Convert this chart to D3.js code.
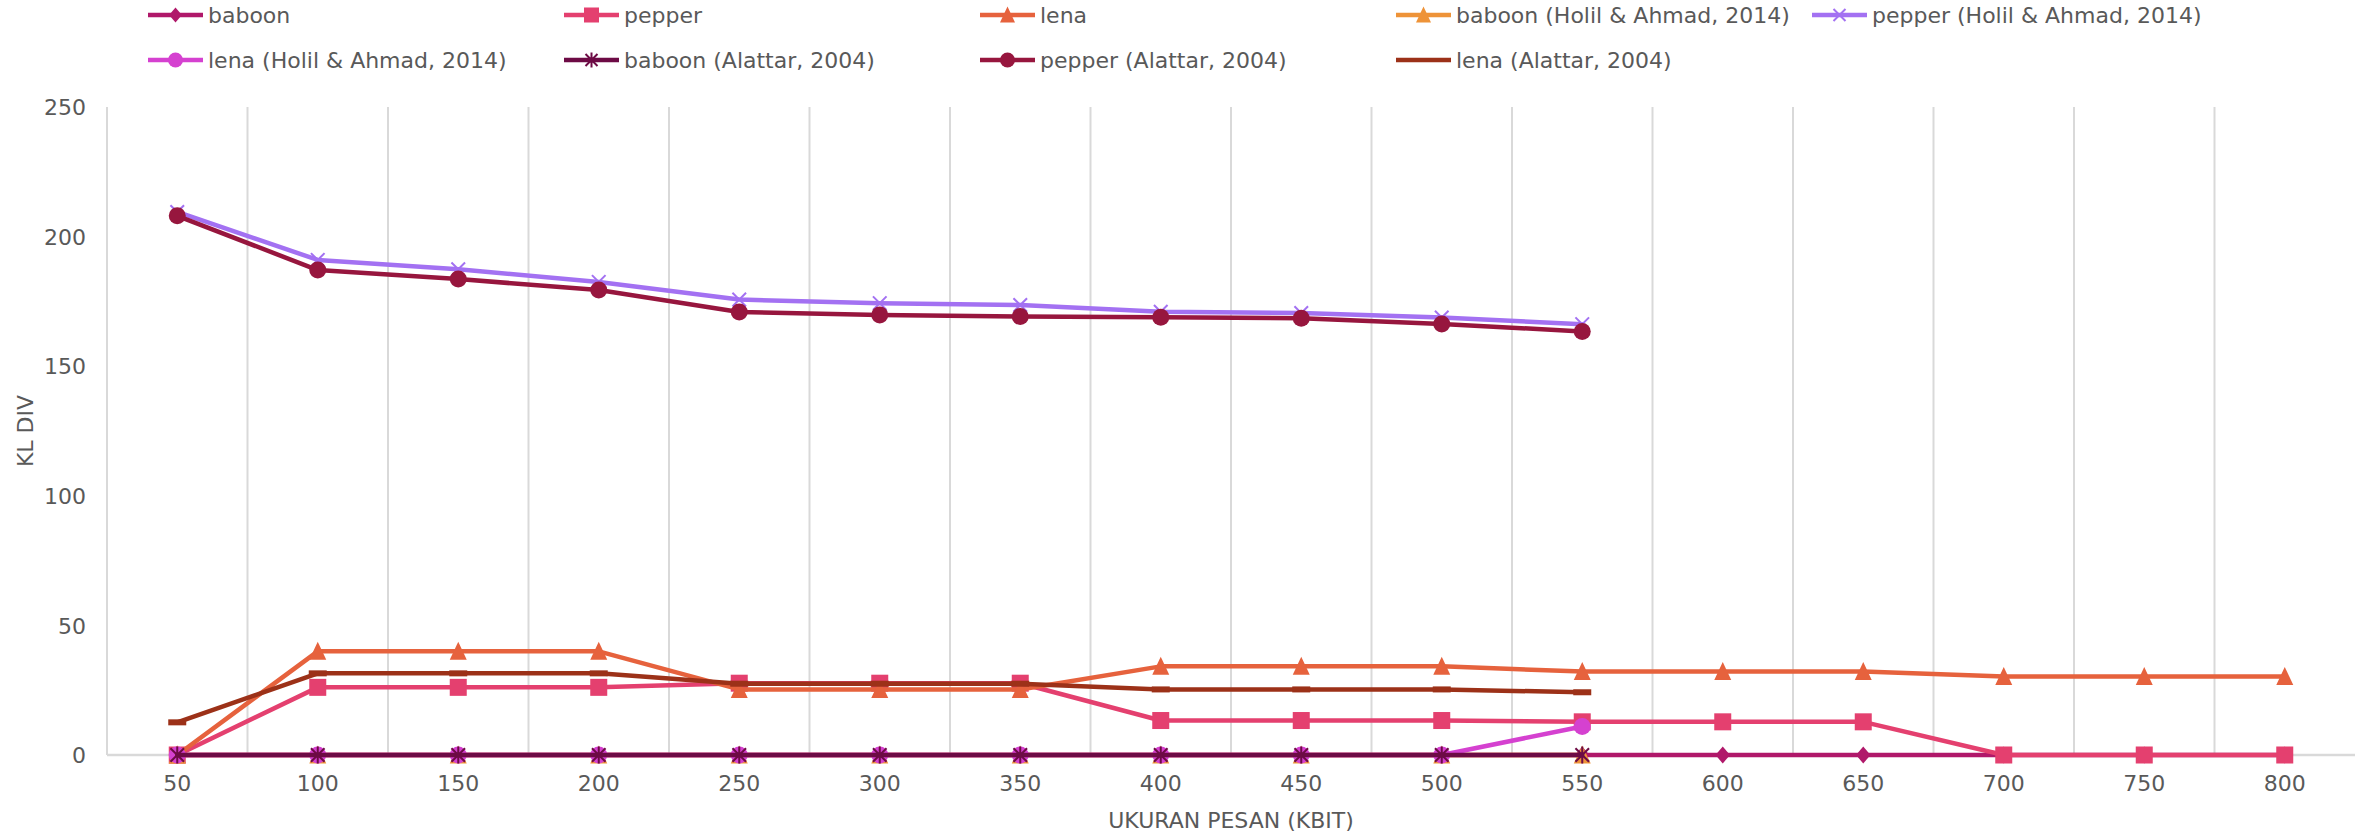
<!DOCTYPE html>
<html>
<head>
<meta charset="utf-8">
<script src="https://cdn.jsdelivr.net/npm/d3@7"></script>
<style>
  html, body { margin: 0; padding: 0; background: #fff; }
  svg text { font-family: "DejaVu Sans", sans-serif; fill: #595959; }
</style>
</head>
<body>
<svg id="chart" width="2369" height="833"></svg>
<script>
// Message sizes (kbit) on the category axis
const categories = ["50","100","150","200","250","300","350","400","450","500","550","600","650","700","750","800"];
const yTicks = [0, 50, 100, 150, 200, 250];

// KL divergence per message size
const baboon        = [0, 0, 0, 0, 0, 0, 0, 0, 0, 0, 0, 0, 0, 0, 0, 0];
const pepper        = [0, 26.1, 26.1, 26.1, 27.7, 27.7, 27.7, 13.3, 13.3, 13.3, 12.8, 12.8, 12.8, 0, 0, 0];
const lena          = [0, 40, 40, 40, 25.3, 25.3, 25.3, 34.2, 34.2, 34.2, 32.2, 32.2, 32.2, 30.3, 30.3, 30.3];
const baboonHolil   = [0, 0, 0, 0, 0, 0, 0, 0, 0, 0, 0];
const pepperHolil   = [209.5, 191, 187.4, 182.5, 175.7, 174.3, 173.6, 171, 170.5, 168.8, 166.2];
const lenaHolil     = [0, 0, 0, 0, 0, 0, 0, 0, 0, 0, 11];
const baboonAlattar = [0, 0, 0, 0, 0, 0, 0, 0, 0, 0, 0];
const pepperAlattar = [208, 187.1, 183.6, 179.4, 170.9, 169.8, 169.2, 168.9, 168.5, 166.3, 163.4];
const lenaAlattar   = [12.6, 31.5, 31.5, 31.5, 27.5, 27.5, 27.5, 25.3, 25.3, 25.3, 24.2];

const seriesNames = [
  "baboon", "pepper", "lena",
  "baboon (Holil & Ahmad, 2014)", "pepper (Holil & Ahmad, 2014)", "lena (Holil & Ahmad, 2014)",
  "baboon (Alattar, 2004)", "pepper  (Alattar, 2004)", "lena (Alattar, 2004)"
];
const seriesValues = [baboon, pepper, lena, baboonHolil, pepperHolil, lenaHolil, baboonAlattar, pepperAlattar, lenaAlattar];
const seriesColors = ["#B0186A", "#E4406F", "#E6623D", "#EE9338", "#A371F2", "#D541D0", "#6D0B45", "#97163E", "#9C3118"];
const seriesMarkers = ["diamond", "square", "triangle", "triangle", "x", "circle", "star", "circle", "dash"];

const svg = d3.select("#chart");
const plot = { left: 107, right: 2355, top: 107, bottom: 755 };

const x = d3.scaleBand().domain(categories).range([plot.left, plot.right]).paddingInner(0).paddingOuter(0);
const y = d3.scaleLinear().domain([0, 250]).range([plot.bottom, plot.top]);
const cx = c => x(c) + x.bandwidth() / 2;

// Vertical gridlines between categories
const grid = svg.append("g");
categories.forEach((c, i) => {
  grid.append("line")
    .attr("x1", x(c)).attr("x2", x(c))
    .attr("y1", y(250)).attr("y2", y(0))
    .attr("stroke", "#D9D9D9").attr("stroke-width", 2);
});

// Category axis line
svg.append("line")
  .attr("x1", plot.left).attr("x2", plot.right)
  .attr("y1", y(0)).attr("y2", y(0))
  .attr("stroke", "#D9D9D9").attr("stroke-width", 2.5);

// Value axis labels
const yAxis = d3.axisLeft(y).tickValues(yTicks).tickSize(0).tickPadding(0);
const gy = svg.append("g").attr("transform", "translate(86,0)").call(yAxis);
gy.select(".domain").remove();
gy.selectAll("text").attr("font-size", 22).attr("fill", "#595959")
  .style("font-family", "DejaVu Sans, sans-serif").attr("dy", "0.35em");

// Category axis labels
const xAxis = d3.axisBottom(x).tickSize(0).tickPadding(0);
const gx = svg.append("g").attr("transform", "translate(0,775)").call(xAxis);
gx.select(".domain").remove();
gx.selectAll("text").attr("font-size", 22).attr("fill", "#595959")
  .style("font-family", "DejaVu Sans, sans-serif").attr("dy", "0.71em");

// Axis titles
svg.append("text")
  .attr("x", (plot.left + plot.right) / 2).attr("y", 828)
  .attr("text-anchor", "middle").attr("font-size", 22)
  .text("UKURAN PESAN (KBIT)");
svg.append("text")
  .attr("transform", `translate(25,${(plot.top + plot.bottom) / 2}) rotate(-90)`)
  .attr("text-anchor", "middle").attr("dominant-baseline", "central").attr("font-size", 22)
  .text("KL DIV");

// Marker drawing
function drawMarker(g, type, px, py, color, s) {
  const h = s / 2;
  switch (type) {
    case "diamond":
      g.append("path").attr("d", `M${px},${py - h}L${px + h * 0.85},${py}L${px},${py + h}L${px - h * 0.85},${py}Z`)
        .attr("fill", color);
      break;
    case "square":
      g.append("rect").attr("x", px - h).attr("y", py - h).attr("width", s).attr("height", s)
        .attr("fill", color);
      break;
    case "triangle":
      g.append("path").attr("d", `M${px},${py - h - 1}L${px + h},${py + h}L${px - h},${py + h}Z`)
        .attr("fill", color);
      break;
    case "circle":
      g.append("circle").attr("cx", px).attr("cy", py).attr("r", h).attr("fill", color);
      break;
    case "x":
      g.append("path").attr("d", `M${px - h * 0.8},${py - h * 0.8}L${px + h * 0.8},${py + h * 0.8}M${px + h * 0.8},${py - h * 0.8}L${px - h * 0.8},${py + h * 0.8}`)
        .attr("stroke", color).attr("stroke-width", 2).attr("fill", "none");
      break;
    case "star":
      g.append("path").attr("d", `M${px - h * 0.8},${py - h * 0.8}L${px + h * 0.8},${py + h * 0.8}M${px + h * 0.8},${py - h * 0.8}L${px - h * 0.8},${py + h * 0.8}M${px},${py - h}L${px},${py + h}`)
        .attr("stroke", color).attr("stroke-width", 2).attr("fill", "none");
      break;
    case "dash":
      g.append("rect").attr("x", px - 9).attr("y", py - 3).attr("width", 18).attr("height", 6)
        .attr("fill", color);
      break;
  }
}

const line = d3.line()
  .defined(d => d.v != null)
  .x(d => cx(d.c))
  .y(d => y(d.v));

// Series, drawn in order so later ones sit on top
seriesValues.forEach((vals, i) => {
  const pts = vals.map((v, j) => ({ c: categories[j], v }));
  const g = svg.append("g");
  g.append("path").datum(pts)
    .attr("d", line)
    .attr("fill", "none")
    .attr("stroke", seriesColors[i])
    .attr("stroke-width", 4.5)
    .attr("stroke-linejoin", "round")
    .attr("stroke-linecap", "round");
  pts.forEach(p => drawMarker(g, seriesMarkers[i], cx(p.c), y(p.v), seriesColors[i], 17));
});

// Legend
const legendCols = 5, legendColW = 416, legendX0 = 148;
const legendRowY = [15, 60];
seriesNames.forEach((name, i) => {
  const col = i % legendCols, row = Math.floor(i / legendCols);
  const lx = legendX0 + col * legendColW, ly = legendRowY[row];
  const g = svg.append("g");
  g.append("line").attr("x1", lx).attr("x2", lx + 55).attr("y1", ly).attr("y2", ly)
    .attr("stroke", seriesColors[i]).attr("stroke-width", 4.5);
  if (seriesMarkers[i] !== "dash") drawMarker(g, seriesMarkers[i], lx + 27.5, ly, seriesColors[i], 15);
  g.append("text").attr("x", lx + 60).attr("y", ly).attr("dy", "0.35em")
    .attr("font-size", 22).text(name);
});
</script>
</body>
</html>
